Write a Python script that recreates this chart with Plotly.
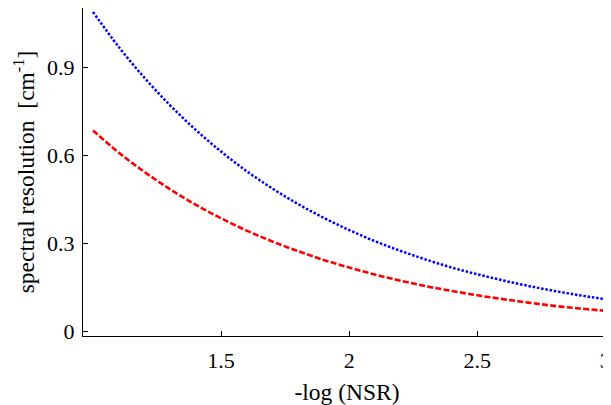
import plotly.graph_objects as go

# -log(NSR)
x_vals = [1.0, 1.1, 1.2, 1.3, 1.4, 1.5, 1.6, 1.7, 1.8, 1.9, 2.0,
          2.1, 2.2, 2.3, 2.4, 2.5, 2.6, 2.7, 2.8, 2.9, 3.0]
# spectral resolution [cm^-1], blue dotted curve
blue_vals = [1.090, 0.971, 0.866, 0.772, 0.688, 0.613, 0.546, 0.487, 0.434, 0.387, 0.345,
             0.307, 0.274, 0.244, 0.217, 0.194, 0.173, 0.154, 0.137, 0.122, 0.109]
# red dashed curve
red_vals = [0.685, 0.610, 0.544, 0.485, 0.432, 0.385, 0.343, 0.306, 0.273, 0.243, 0.217,
            0.193, 0.172, 0.153, 0.137, 0.122, 0.109, 0.097, 0.086, 0.077, 0.069]

x_ticks = [1.5, 2, 2.5, 3]
x_tick_text = ["1.5", "2", "2.5", "3"]
y_ticks = [0, 0.3, 0.6, 0.9]
y_tick_text = ["0", "0.3", "0.6", "0.9"]

FONT = "Times New Roman"
TF = dict(family=FONT, size=22, color="black")
XT = dict(family=FONT, size=23.5, color="black")
YT = dict(family=FONT, size=23.5, color="black")

fig = go.Figure()
fig.add_trace(go.Scatter(x=x_vals, y=blue_vals, mode="lines", line_shape="spline",
                         line=dict(color="#0000ff", width=2.5, dash="2.5px,1.8px"),
                         showlegend=False))
fig.add_trace(go.Scatter(x=x_vals, y=red_vals, mode="lines", line_shape="spline",
                         line=dict(color="#ff0000", width=2.6, dash="6px,2.3px"),
                         showlegend=False))

fig.update_layout(
    width=603, height=397, autosize=False,
    margin=dict(l=75, r=0, t=0, b=69, pad=0, autoexpand=False),
    paper_bgcolor="white", plot_bgcolor="white",
    font=TF,
    xaxis=dict(range=[0.961, 3.022], tickvals=x_ticks, ticktext=x_tick_text,
               tickfont=TF, automargin=False, ticklabeloverflow="allow",
               ticks="inside", ticklen=5, tickcolor="black", tickwidth=1,
               showline=True, linecolor="black", linewidth=1.2,
               showgrid=False, zeroline=False, ticklabelstandoff=4,
               title=dict(text="-log (NSR)", font=XT, standoff=14)),
    yaxis=dict(range=[-0.017, 1.1035], tickvals=y_ticks, ticktext=y_tick_text,
               tickfont=TF, automargin=False, ticklabeloverflow="allow",
               ticks="inside", ticklen=5, tickcolor="black", tickwidth=1,
               showline=True, linecolor="black", linewidth=1.2,
               showgrid=False, zeroline=False, ticklabelstandoff=3,
               title=dict(text="spectral resolution  [cm<sup>-1</sup>]", font=YT, standoff=5)),
)

fig.write_html("out.html")
